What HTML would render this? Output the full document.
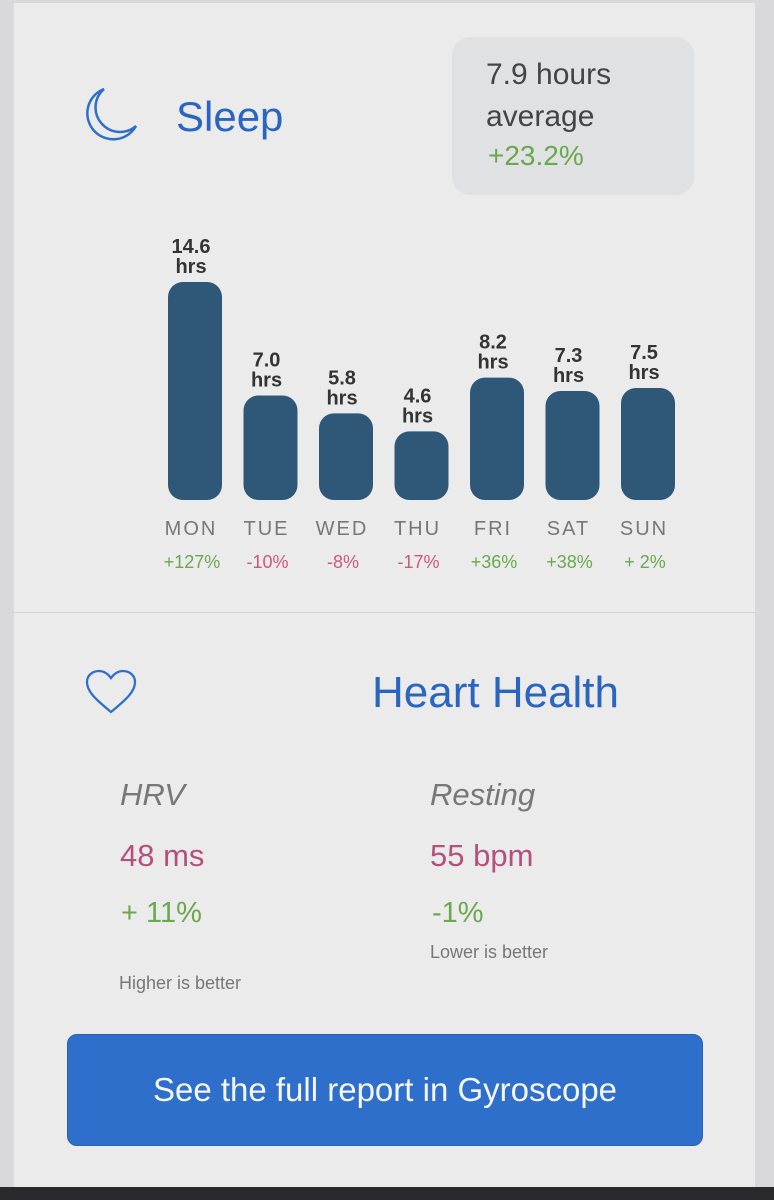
<!DOCTYPE html>
<html><head><meta charset="utf-8"><style>
*{margin:0;padding:0;box-sizing:border-box}
body{width:774px;height:1200px;background:#d9d9db;font-family:"Liberation Sans",sans-serif;position:relative;overflow:hidden}
#card{position:absolute;left:14px;top:3px;width:741px;height:1184px;background:#ebebeb}
.a{position:absolute;white-space:nowrap}
</style></head><body>
<div id="card"></div>
<div class="a" style="left:0;top:1187px;width:774px;height:13px;background:#2a2a2e"></div>
<svg class="a" style="left:80px;top:84px" width="62" height="60" viewBox="0 0 62 60"><path d="M24 5 A26 26 0 1 0 56 42 A22 22 0 0 1 24 5 Z" fill="none" stroke="#2f6fcc" stroke-width="2.5"/></svg>
<div class="a" style="left:176px;top:93px;font-size:42px;color:#2a66c0">Sleep</div>
<div class="a" style="left:452px;top:37px;width:242px;height:158px;background:#dfe1e2;border-radius:18px"></div>
<div class="a" style="left:486px;top:54px;font-size:30px;color:#444;line-height:42px">7.9 hours<br>average</div>
<div class="a" style="left:488px;top:140px;font-size:28px;color:#6aa84f">+23.2%</div>
<svg id="chart" class="a" style="left:0;top:220px" width="774" height="360"></svg>
<div class="a" style="left:14px;top:612px;width:741px;height:1px;background:#d4d4d4"></div>
<svg class="a" style="left:84px;top:668px" width="54" height="48" viewBox="0 0 54 48"><path d="M27 44 C10 30 3 23 3 14 C3 7 9 3 15 3 C20 3 24 6 27 10 C30 6 34 3 39 3 C45 3 51 7 51 14 C51 23 44 30 27 44 Z" fill="none" stroke="#2f6fcc" stroke-width="2.3"/></svg>
<div class="a" style="left:372px;top:668px;font-size:44px;color:#2a66c0">Heart Health</div>
<div class="a" style="left:120px;top:777px;font-size:31px;font-style:italic;color:#777">HRV</div>
<div class="a" style="left:120px;top:838px;font-size:31px;color:#b5507e">48 ms</div>
<div class="a" style="left:121px;top:897px;font-size:29px;color:#6aa84f">+ 11%</div>
<div class="a" style="left:119px;top:973px;font-size:18px;color:#777">Higher is better</div>
<div class="a" style="left:430px;top:777px;font-size:31px;font-style:italic;color:#777">Resting</div>
<div class="a" style="left:430px;top:838px;font-size:31px;color:#b5507e">55 bpm</div>
<div class="a" style="left:432px;top:897px;font-size:29px;color:#6aa84f">-1%</div>
<div class="a" style="left:430px;top:942px;font-size:18px;color:#777">Lower is better</div>
<div class="a" style="left:67px;top:1034px;width:636px;height:112px;background:#2f6fcc;border:1px solid #2a5fae;border-radius:10px;color:#f4f6fb;font-size:33px;text-align:center;line-height:110px">See the full report in Gyroscope</div>
<script>
const days=["MON","TUE","WED","THU","FRI","SAT","SUN"];
const hours=[14.6,7.0,5.8,4.6,8.2,7.3,7.5];
const changes=["+127%","-10%","-8%","-17%","+36%","+38%","+ 2%"];
const svg=document.getElementById('chart');
const NS="http://www.w3.org/2000/svg";
const baseY=280, pxPerHr=14.93, x0=195, step=75.5, bw=54;
const xOf=i=>x0+i*step, yOf=v=>baseY-v*pxPerHr;
function mk(tag,attrs,txt){const e=document.createElementNS(NS,tag);for(const k in attrs)e.setAttribute(k,attrs[k]);if(txt!=null)e.textContent=txt;svg.appendChild(e);return e;}
hours.forEach((h,i)=>{
  const cx=xOf(i), top=yOf(h);
  const r=mk('rect',{x:cx-bw/2,y:top,width:bw,height:baseY-top,rx:15,fill:'#2f5878'});
  
  
  const t=mk('text',{x:cx-4,y:top-29,'text-anchor':'middle','font-size':20,'font-weight':'bold',fill:'#333','font-family':'Liberation Sans'},h.toFixed(1));
  
  
  const t2=mk('text',{x:cx-4,y:top-9,'text-anchor':'middle','font-size':20,'font-weight':'bold',fill:'#333','font-family':'Liberation Sans'},'hrs');
  
  
  const d=mk('text',{x:cx-4,y:315,'text-anchor':'middle','font-size':20,fill:'#777','letter-spacing':'2','font-family':'Liberation Sans'},days[i]);
  
  
  const c=mk('text',{x:cx-3,y:348,'text-anchor':'middle','font-size':18,fill:changes[i].trim().startsWith('-')?'#d0587a':'#6aa84f','font-family':'Liberation Sans'},changes[i]);
  
  
});
</script>
</body></html>
